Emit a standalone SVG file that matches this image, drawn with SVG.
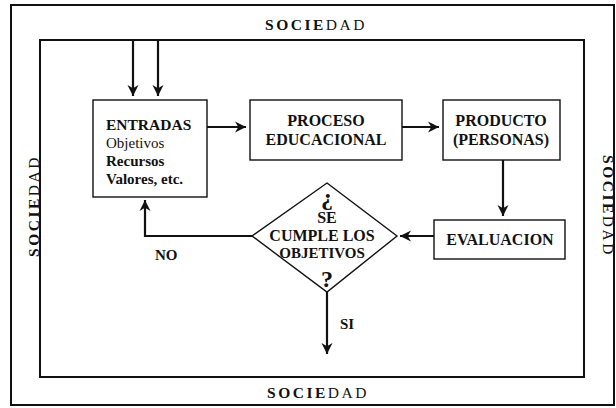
<svg xmlns="http://www.w3.org/2000/svg" width="616" height="408" viewBox="0 0 616 408">
<style>
  text { font-family: "Liberation Serif", "DejaVu Serif", serif; fill: #111; }
  .soc { font-size: 15.5px; letter-spacing: 2.5px; }
  .box { fill: #fff; stroke: #111; stroke-width: 1.4; }
  .frame { fill: none; stroke: #111; stroke-width: 2; }
  .lbl { font-size: 16px; text-anchor: middle; font-weight: bold; }
  .b { font-weight: bold; }
  .conn { fill: none; stroke: #111; stroke-width: 2.2; marker-end: url(#ah); }
</style>
<defs>
  <marker id="ah" viewBox="0 0 12 12" refX="11" refY="6" markerWidth="6" markerHeight="6" orient="auto" markerUnits="strokeWidth">
    <path d="M1,1 L11,6 L1,11 L4,6 Z" fill="#111"/>
  </marker>
</defs>
<rect width="616" height="408" fill="#fff"/>
<g id="frames">
  <rect class="frame" x="11" y="5" width="603" height="400"/>
  <rect class="frame" x="40" y="40" width="544" height="337"/>
</g>
<g id="sociedad-labels">
  <text class="soc" x="316" y="30" text-anchor="middle"><tspan font-weight="bold">SOCIE</tspan>DAD</text>
  <text class="soc" x="318" y="398" text-anchor="middle"><tspan font-weight="bold">SOCIE</tspan>DAD</text>
  <text class="soc" transform="translate(39,206) rotate(-90)" text-anchor="middle"><tspan font-weight="bold">SOCIE</tspan>DAD</text>
  <text class="soc" transform="translate(603,206) rotate(90)" text-anchor="middle"><tspan font-weight="bold">SOCIE</tspan>DAD</text>
</g>
<g id="entradas">
  <rect class="box" x="93" y="100" width="114" height="97"/>
  <text x="106" y="130" style="font-size:15.5px" class="b">ENTRADAS</text>
  <text x="106" y="148" style="font-size:15px">Objetivos</text>
  <text x="106" y="166" style="font-size:15px" class="b">Recursos</text>
  <text x="106" y="184" style="font-size:15px" class="b">Valores, etc.</text>
</g>
<g id="proceso">
  <rect class="box" x="250" y="100" width="152" height="60"/>
  <text class="lbl" x="326" y="126">PROCESO</text>
  <text class="lbl" x="326" y="145">EDUCACIONAL</text>
</g>
<g id="producto">
  <rect class="box" x="443" y="100" width="117" height="60"/>
  <text class="lbl" x="501" y="126">PRODUCTO</text>
  <text class="lbl" x="501" y="145">(PERSONAS)</text>
</g>
<g id="evaluacion">
  <rect class="box" x="434" y="220" width="131" height="39"/>
  <text class="lbl" x="500" y="245">EVALUACION</text>
</g>
<g id="decision">
  <polygon class="box" points="327,183 397,236 327,292 252,236"/>
  <text class="lbl" x="327" y="205" style="font-size:24px">¿</text>
  <text class="lbl" x="327" y="223">SE</text>
  <text class="lbl" x="322" y="241">CUMPLE LOS</text>
  <text class="lbl" x="322" y="258" style="font-size:15px">OBJETIVOS</text>
  <text class="lbl" x="327" y="287" style="font-size:24px">?</text>
</g>
<g id="connectors">
  <line class="conn" x1="133" y1="40" x2="133" y2="96"/>
  <line class="conn" x1="158" y1="40" x2="158" y2="96"/>
  <line class="conn" x1="207" y1="127" x2="246" y2="127"/>
  <line class="conn" x1="402" y1="127" x2="439" y2="127"/>
  <line class="conn" x1="503" y1="160" x2="503" y2="216"/>
  <line class="conn" x1="434" y1="236" x2="400" y2="236"/>
  <polyline class="conn" points="252,236 145,236 145,200"/>
  <line class="conn" x1="327" y1="292" x2="327" y2="354"/>
  <text x="155" y="260" style="font-size:15px" class="b">NO</text>
  <text x="340" y="329" style="font-size:15px" class="b">SI</text>
</g>
</svg>
